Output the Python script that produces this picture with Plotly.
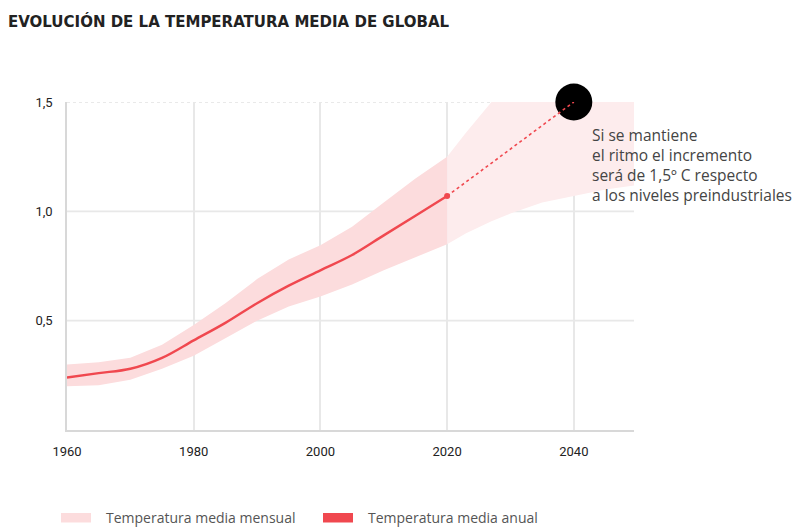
import plotly.graph_objects as go

# ---- data ----
years_hist = [1960, 1965, 1970, 1975, 1980, 1985, 1990, 1995, 2000, 2005, 2010, 2015, 2020]
annual = [0.24, 0.26, 0.28, 0.33, 0.41, 0.49, 0.58, 0.66, 0.73, 0.80, 0.89, 0.98, 1.07]
monthly_upper = [0.30, 0.31, 0.33, 0.39, 0.48, 0.58, 0.69, 0.78, 0.845, 0.93, 1.04, 1.15, 1.25]
monthly_lower = [0.20, 0.205, 0.23, 0.28, 0.34, 0.42, 0.50, 0.565, 0.61, 0.665, 0.73, 0.79, 0.85]

years_proj = [2020, 2023, 2027, 2030, 2035, 2040, 2045, 2050]
proj_upper = [1.25, 1.36, 1.50, 1.50, 1.50, 1.50, 1.50, 1.50]
proj_lower = [0.85, 0.90, 0.955, 0.99, 1.04, 1.07, 1.10, 1.12]

trend_years = [2020, 2040]
trend_values = [1.07, 1.50]

x_ticks = [1960, 1980, 2000, 2020, 2040]
y_ticks = [0.5, 1.0, 1.5]
y_tick_labels = ["0,5", "1,0", "1,5"]

title = "EVOLUCIÓN DE LA TEMPERATURA MEDIA DE GLOBAL"
note = "Si se mantiene<br>el ritmo el incremento<br>será de 1,5º C respecto<br>a los niveles preindustriales"
legend_labels = ["Temperatura media mensual", "Temperatura media anual"]

RED = "#f0484f"
PINK = "#fcdcdd"
PINK_LIGHT = "#fdeced"
GRID = "#e8e8e8"

# page has an 8px body margin: figure is shrunk and shifted to compensate
OFF = 8
W, H = 801 - OFF, 528 - OFF
L, R, T, B = 67 - OFF, 801 - 634, 102 - OFF, 98
PH = 528 - T - B - OFF  # plot height in px
PW = 634 - 67

fig = go.Figure()

fig.add_trace(go.Scatter(x=years_proj + years_proj[::-1], y=proj_upper + proj_lower[::-1],
                         fill="toself", fillcolor=PINK_LIGHT, line=dict(width=0),
                         mode="lines", hoverinfo="skip", showlegend=False))
fig.add_trace(go.Scatter(x=years_hist + years_hist[::-1], y=monthly_upper + monthly_lower[::-1],
                         fill="toself", fillcolor=PINK, line=dict(width=0),
                         mode="lines", hoverinfo="skip", showlegend=False))
fig.add_trace(go.Scatter(x=years_hist, y=annual, mode="lines",
                         line=dict(color=RED, width=2.4, shape="spline"),
                         showlegend=False))
fig.add_trace(go.Scatter(x=[trend_years[-1]], y=[trend_values[-1]], mode="markers",
                         marker=dict(size=37, color="black"), cliponaxis=False,
                         showlegend=False))
fig.add_trace(go.Scatter(x=trend_years, y=trend_values, mode="lines",
                         line=dict(color=RED, width=1.6, dash="dot"), cliponaxis=False,
                         showlegend=False))
fig.add_trace(go.Scatter(x=[trend_years[0]], y=[trend_values[0]], mode="markers",
                         marker=dict(size=6, color=RED), showlegend=False))

shapes = []
for v in y_ticks:
    shapes.append(dict(type="line", xref="paper", yref="y", x0=0, x1=1, y0=v, y1=v,
                       line=dict(color="#e2e2e2" if v == 1.5 else GRID, width=1.6,
                                 dash="dot" if v == 1.5 else "solid"),
                       layer="below"))

LEG_Y = -(517.5 - 430) / PH
SW_Y0 = -(522.5 - 430) / PH
SW_Y1 = -(513 - 430) / PH
shapes.append(dict(type="rect", xref="paper", yref="paper",
                   x0=(61 - 67) / PW, x1=(91 - 67) / PW, y0=SW_Y0, y1=SW_Y1,
                   fillcolor=PINK, line=dict(width=0)))
shapes.append(dict(type="rect", xref="paper", yref="paper",
                   x0=(323 - 67) / PW, x1=(353 - 67) / PW, y0=SW_Y0, y1=SW_Y1,
                   fillcolor=RED, line=dict(width=0)))

annotations = [
    dict(text=note, x=2042.6, y=1.41, xref="x", yref="y", xanchor="left", yanchor="top",
         align="left", showarrow=False, font=dict(family="Open Sans", size=15.5, color="#444")),
    dict(text=legend_labels[0], x=(104 - 67) / PW, y=LEG_Y, xref="paper", yref="paper",
         xanchor="left", yanchor="middle", showarrow=False,
         font=dict(family="Open Sans", size=14, color="#555")),
    dict(text=legend_labels[1], x=(366 - 67) / PW, y=LEG_Y, xref="paper", yref="paper",
         xanchor="left", yanchor="middle", showarrow=False,
         font=dict(family="Open Sans", size=14, color="#555")),
]

fig.update_layout(
    width=W, height=H,
    margin=dict(l=L, r=R, t=T, b=B, pad=0),
    paper_bgcolor="white", plot_bgcolor="white",
    title=dict(text="<b>" + title + "</b>", x=0, xanchor="left",
               y=1 - (22 - OFF) / H, yanchor="middle", xref="container", yref="container",
               font=dict(family="DejaVu Sans", size=15, color="#222")),
    shapes=shapes, annotations=annotations,
    showlegend=False,
)
fig.update_xaxes(range=[1960, 2049.5], tickvals=x_ticks, showgrid=True, gridcolor=GRID,
                 gridwidth=1.6, showline=True, linecolor="#d8d8d8", linewidth=1.6,
                 zeroline=False, ticks="", ticklabelstandoff=9,
                 tickfont=dict(family="Roboto", size=13, color="#222"))
fig.update_yaxes(range=[0, 1.5], tickvals=y_ticks, ticktext=y_tick_labels, showgrid=False,
                 showline=True, linecolor="#d8d8d8", linewidth=1.6, zeroline=False,
                 ticks="", ticklabelstandoff=10,
                 tickfont=dict(family="Roboto", size=13, color="#222"))

fig.write_html("out.html")
